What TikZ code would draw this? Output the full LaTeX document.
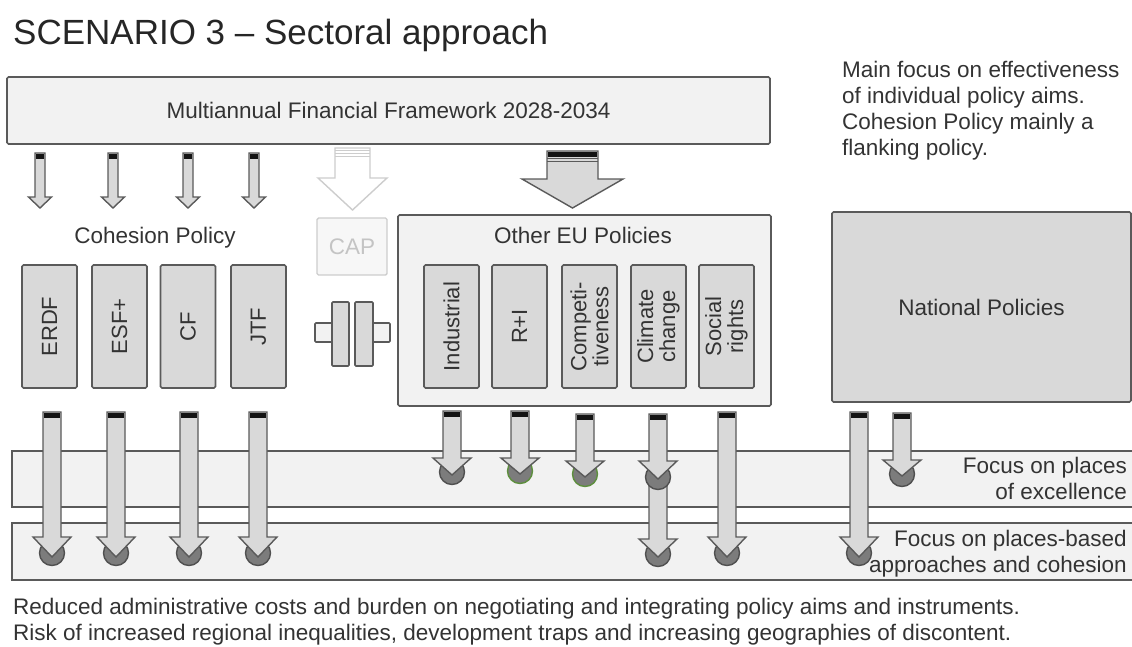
\documentclass[tikz,border=0pt]{standalone}
\usepackage{fontspec}
\setmainfont{Liberation Sans}
\definecolor{edge}{HTML}{5A5A5A}
\definecolor{paleFill}{HTML}{F2F2F2}
\definecolor{midFill}{HTML}{D9D9D9}
\definecolor{dotFill}{HTML}{7C7C7C}
\definecolor{dotEdge}{HTML}{505050}
\definecolor{dotGreen}{HTML}{5E8F3E}
\definecolor{ink}{HTML}{333333}
\definecolor{capEdge}{HTML}{CDCDCD}
\definecolor{capInk}{HTML}{C4C4C4}

% block arrow: x, top, head start, tip, half shaft width, half head width
\newcommand\flowarrow[6]{%
  \filldraw[blockarrow] ({#1-#5},#2) -- ({#1+#5},#2) -- ({#1+#5},#3) -- ({#1+#6},#3)
    -- (#1,#4) -- ({#1-#6},#3) -- ({#1-#5},#3) -- cycle;
  \fill[arrowcap] ({#1-#5+0.8},{#2+0.8}) rectangle ({#1+#5-0.8},{#2+6});
}

\begin{document}
\begin{tikzpicture}[x=1pt,y=-1pt,
  every node/.style={inner sep=0pt, text=ink, font=\fontsize{22.5}{26}\selectfont},
  palebox/.style={draw=edge, line width=1.6pt, fill=paleFill, rounded corners=1.5pt},
  midbox/.style={draw=edge, line width=1.6pt, fill=midFill, rounded corners=1.5pt},
  fundbox/.style={midbox, rotate=90, minimum width=123pt, minimum height=55pt,
    align=center, font=\fontsize{22}{22}\selectfont},
  blockarrow/.style={draw=edge, line width=1.4pt, fill=midFill, line join=miter},
  arrowcap/.style={fill=black!92},
  dot/.style={circle, draw=dotEdge, line width=1.4pt, fill=dotFill, minimum size=25pt},
  dotg/.style={dot, draw=dotGreen},
]
\useasboundingbox (0,0) rectangle (1132,646);

% title and side remark (multi-line nodes sit on the baseline of their last line)
\node[anchor=base west, text=black!85, font=\fontsize{35}{40}\selectfont] (title) at (13,44)
  {SCENARIO 3 -- Sectoral approach};
\node[anchor=base west, align=left] (remark) at (842,155)
  {Main focus on effectiveness\\of individual policy aims.\\Cohesion Policy mainly a\\flanking policy.};

% budget frame
\node[palebox, minimum width=763pt, minimum height=67pt] (mff) at (388.5,110.5)
  {Multiannual Financial Framework 2028-2034};

% focus bands
\node[palebox, rounded corners=0pt, minimum width=1130pt, minimum height=56pt] (band1) at (577,479) {};
\node[palebox, rounded corners=0pt, minimum width=1130pt, minimum height=57pt] (band2) at (577,551.5) {};
\node[anchor=base east, align=right] (band1t) at (1127,499) {Focus on places\\of excellence};
\node[anchor=base east, align=right] (band2t) at (1127,572) {Focus on places-based\\approaches and cohesion};

% arrows from the budget frame
\foreach \ax in {40,113,188,254} {\flowarrow{\ax}{153}{197}{208}{5}{11.5}}
\filldraw[draw=capEdge, line width=1.4pt, fill=white, line join=miter]
  (335,148) -- (370,148) -- (370,178) -- (387,178) -- (352.5,210) -- (318,178) -- (335,178) -- cycle;
\foreach \sy in {150.5,153.5,156.5} {\draw[capEdge, line width=1pt] (335,\sy) -- (370,\sy);}
\flowarrow{572.5}{151}{179}{208}{25.5}{50.5}
\foreach \sy in {158.5,161} {\draw[edge, line width=1pt] (547,\sy) -- (598,\sy);}

% cohesion policy funds
\node (cohesion) at (155,238) {Cohesion Policy};
\node[fundbox] (erdf) at (49.5,326.5) {ERDF};
\node[fundbox] (esf) at (119.5,326.5) {ESF+};
\node[fundbox] (cf) at (188,326.5) {CF};
\node[fundbox] (jtf) at (258.5,326.5) {JTF};

% agricultural policy and coupling
\node[draw=capEdge, line width=1.4pt, fill=paleFill!60, rounded corners=1.5pt,
  minimum width=70pt, minimum height=57pt, text=capInk] (cap) at (352,246.5) {CAP};
\draw[midbox, fill=paleFill, rounded corners=1pt] (315,323) rectangle (333,342);
\draw[midbox, fill=paleFill, rounded corners=1pt] (372,323) rectangle (390,342);
\draw[midbox, rounded corners=1pt] (332,302) rectangle (349,366);
\draw[midbox, rounded corners=1pt] (355,302) rectangle (373,366);

% other EU policies
\node[palebox, minimum width=373pt, minimum height=191pt] (eu) at (584.5,310.5) {};
\node (eut) at (583,235) {Other EU Policies};
\node[fundbox] (ind) at (451.5,326.5) {Industrial};
\node[fundbox] (ri) at (519.5,326.5) {R+I};
\node[fundbox] (comp) at (589.5,326.5) {Competi-\\tiveness};
\node[fundbox] (clim) at (658.5,326.5) {Climate\\change};
\node[fundbox] (soc) at (726.5,326.5) {Social\\rights};

% national policies
\node[midbox, minimum width=299pt, minimum height=190pt] (nat) at (981.5,307) {National Policies};

% arrows reaching the places-based band
\foreach \ax/\nm in {52/c1,116/c2,189/c3,258/c4,727/c5,859/c6} {
  \node[dot] (\nm) at (\ax,553) {};
  \flowarrow{\ax}{412}{537}{557}{9}{19}
}
\node[dot] (c7) at (658,554) {};
\flowarrow{658}{478}{539}{557}{9}{19}

% arrows reaching the excellence band
\node[dot] (e1) at (452,472) {};
\node[dotg] (e2) at (520,471) {};
\node[dotg] (e3) at (585,474) {};
\node[dot] (e4) at (658,477) {};
\node[dot] (e5) at (902,474) {};
\flowarrow{452}{411}{458}{475}{9}{19}
\flowarrow{520}{411}{458}{474}{9}{19}
\flowarrow{585}{414}{461}{477}{9}{19}
\flowarrow{658}{414}{461}{479}{9}{19}
\flowarrow{902}{413}{460}{476}{9}{19}

% conclusions
\node[anchor=base west, align=left] (concl) at (13,640)
  {Reduced administrative costs and burden on negotiating and integrating policy aims and instruments.\\
   Risk of increased regional inequalities, development traps and increasing geographies of discontent.};
\end{tikzpicture}
\end{document}
